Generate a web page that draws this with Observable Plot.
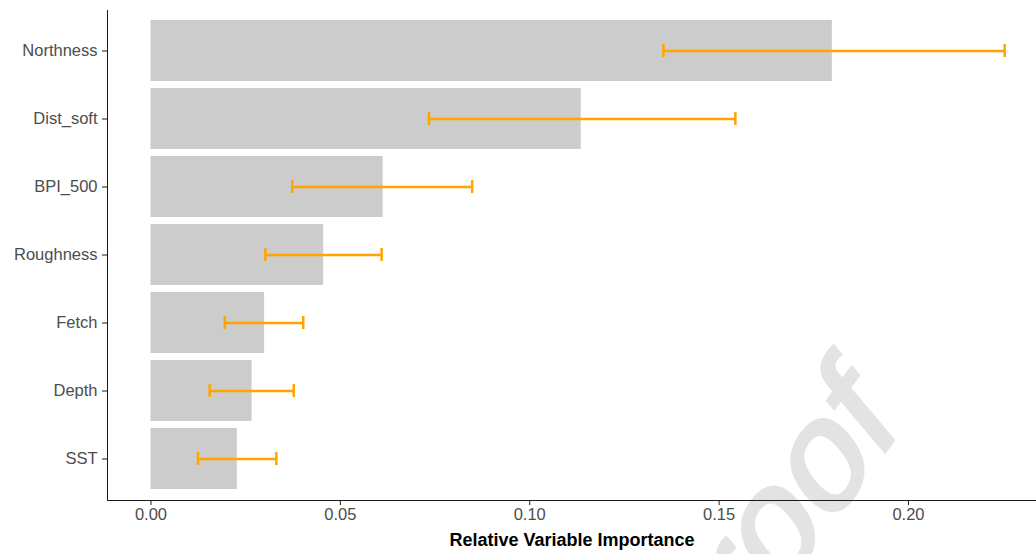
<!DOCTYPE html>
<html><head><meta charset="utf-8">
<script src="https://cdn.jsdelivr.net/npm/d3@7"></script>
<script src="https://cdn.jsdelivr.net/npm/@observablehq/plot@0.6"></script>
<style>body{margin:0;background:#fff;overflow:hidden}</style>
</head><body><div id="chart"></div>
<script>
const variables = ["Northness", "Dist_soft", "BPI_500", "Roughness", "Fetch", "Depth", "SST"];
const importance = [0.1799, 0.1136, 0.0613, 0.0456, 0.0300, 0.0267, 0.0228];
const lower = [0.1353, 0.0734, 0.0373, 0.0302, 0.0195, 0.0155, 0.0124];
const upper = [0.2254, 0.1543, 0.0848, 0.0609, 0.0402, 0.0377, 0.0331];
const xTicks = [0, 0.05, 0.10, 0.15, 0.20];
const xTitle = "Relative Variable Importance";
const watermark = "Journal Pre-proof";

const data = variables.map((v, i) => ({variable: v, importance: importance[i], lower: lower[i], upper: upper[i]}));

const chart = Plot.plot({
  width: 1036, height: 554,
  marginLeft: 107, marginRight: 0, marginTop: 10, marginBottom: 54,
  style: {fontFamily: "'Liberation Sans', Arial, sans-serif", fontSize: "16.5px", color: "#1a1a1a", background: "#fff"},
  x: {domain: [-0.01148, 0.2338], ticks: xTicks, tickFormat: d3.format(".2f"), tickSize: 5, tickPadding: 3, line: true,
      label: xTitle, labelAnchor: "center", labelOffset: 45},
  y: {domain: variables, paddingInner: 0.1, paddingOuter: 0.15, tickSize: 5, tickPadding: 5, line: true, label: null},
  marks: [
    Plot.barX(data, {y: "variable", x1: 0, x2: "importance", fill: "#cccccc"}),
    Plot.ruleY(data, {y: "variable", x1: "lower", x2: "upper", stroke: "#ffa500", strokeWidth: 2.5}),
    Plot.tickX(data, {y: "variable", x: "lower", stroke: "#ffa500", strokeWidth: 2.5, insetTop: 24, insetBottom: 24}),
    Plot.tickX(data, {y: "variable", x: "upper", stroke: "#ffa500", strokeWidth: 2.5, insetTop: 24, insetBottom: 24})
  ]
});

const svg = d3.select(chart);
svg.selectAll('g[aria-label="x-axis tick label"], g[aria-label="y-axis tick label"]').attr("fill", "#4d4d4d");
svg.selectAll('g[aria-label="x-axis label"]').attr("fill", "#000").style("font-weight", "bold").style("font-size", "18px");
svg.selectAll('g[aria-label="x-axis label"] text').text(xTitle);

// faint watermark behind the chart
svg.insert("text", ":first-child")
  .attr("transform", "translate(902,428) scale(0.88,1.12) rotate(-47)")
  .attr("text-anchor", "end")
  .attr("fill", "#e3e3e3")
  .attr("stroke", "#e3e3e3")
  .attr("stroke-width", 4)
  .style("font-size", "148px")
  .style("font-family", "'Liberation Sans', Arial, sans-serif")
  .text(watermark);

document.getElementById("chart").append(chart);
</script>
</body></html>
